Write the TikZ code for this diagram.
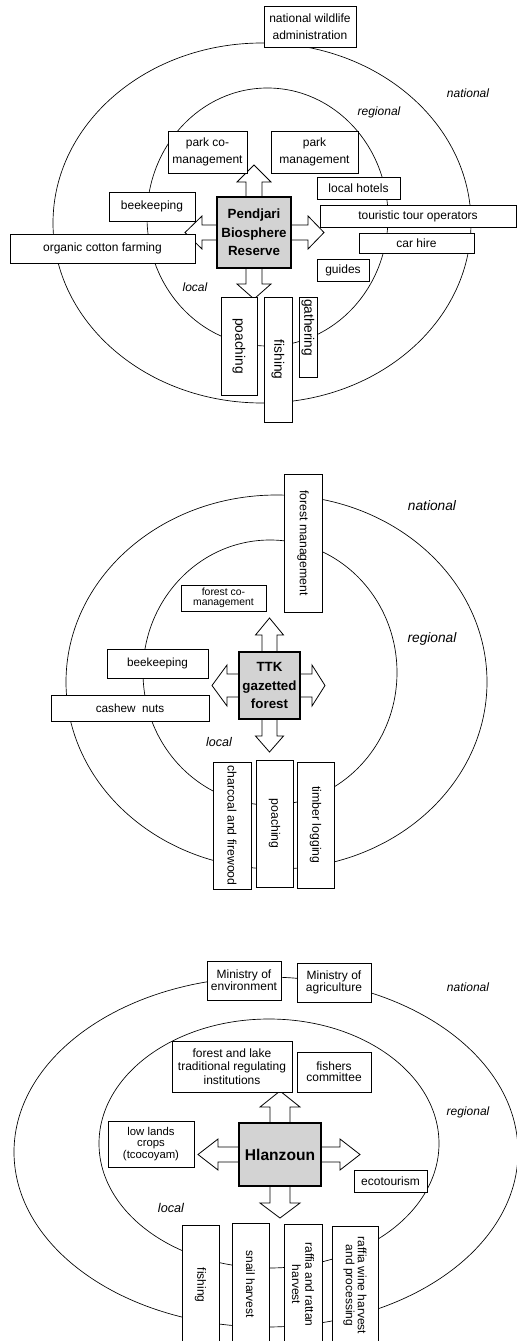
\documentclass[tikz,border=0pt]{standalone}
\usepackage{fontspec}
\setmainfont{Liberation Sans}
\usetikzlibrary{calc}

\definecolor{corefill}{RGB}{211,211,211}
\newcommand\fs[2]{\fontsize{#1}{#2}\selectfont}

% horizontal box given by its corners (x1,y1)-(x2,y2) in pixel units
\newcommand\hbx[7][]{\node[box,#1,minimum width={(#5-#3)*0.75pt},minimum height={(#6-#4)*0.75pt}] (#2) at ({(#3+#5)/2},{(#4+#6)/2}) {#7};}
% vertical box, text running top to bottom
\newcommand\vbx[7][]{\node[box,rotate=-90,#1,minimum width={(#6-#4)*0.75pt},minimum height={(#5-#3)*0.75pt}] (#2) at ({(#3+#5)/2},{(#4+#6)/2}) {#7};}
% block arrow leaving a node anchor: anchor, angle, length, shaft half width, head half width, head length
\newcommand\barrowat[6]{\draw[barrow,shift={(#1)},rotate=#2] (0,{-#4}) -- ({#3-#6},{-#4}) -- ({#3-#6},{-#5}) -- (#3,0) -- ({#3-#6},#5) -- ({#3-#6},#4) -- (0,#4);}

\tikzset{
  box/.style={draw, fill=white, line width=0.6pt, inner sep=1pt, align=center, font=\fs{9}{13}},
  core/.style={draw, fill=corefill, line width=1.5pt, font=\bfseries\fs{10}{14}},
  ring/.style={line width=0.5pt},
  barrow/.style={draw, fill=white, line width=0.6pt, line join=miter},
  lvl/.style={font=\itshape\fs{9}{11}, inner sep=0pt}
}

\begin{document}
\begin{tikzpicture}[x=0.75pt, y=-0.75pt]
\useasboundingbox (0,0) rectangle (517,1341);

% ---------------- Pendjari Biosphere Reserve ----------------
\draw[ring] (262,223) ellipse [x radius=209*0.75pt, y radius=180*0.75pt];
\draw[ring] (267.5,217) ellipse [x radius=120.5*0.75pt, y radius=129*0.75pt];

\hbx[core]{pbr}{217}{197}{291}{268}{Pendjari\\Biosphere\\Reserve}
\barrowat{pbr.north}{90}{31}{8}{17}{17}
\barrowat{pbr.south}{-90}{30}{8}{17}{15}
\barrowat{pbr.west}{180}{31}{7.5}{16.5}{17}
\barrowat{pbr.east}{0}{32}{7.5}{16.5}{16}
\hbx[core]{pbr}{217}{197}{291}{268}{Pendjari\\Biosphere\\Reserve}

\hbx{nwa}{264}{6}{356}{47}{national wildlife\\administration}
\hbx{pcm}{168}{131}{247}{173}{park co-\\management}
\hbx{pm}{271}{131}{358}{173}{park\\management}
\hbx{lh}{317}{177}{400}{199}{local hotels}
\hbx{tto}{320}{205}{516}{227}{touristic tour operators}
\hbx{car}{359}{233}{474}{253}{car hire}
\hbx{gd}{317}{259}{369}{281}{guides}
\hbx{bk1}{109}{192}{195}{221}{beekeeping}
\hbx{ocf}{10}{234}{195}{263}{organic cotton farming}
\vbx[font=\fs{10.3}{12}]{poa1}{221}{297}{257}{395}{poaching}
\vbx[font=\fs{10.3}{12}]{fis1}{264}{297}{292}{422}{fishing}
\vbx[font=\fs{10.3}{12}, text width=57pt, align=left, inner sep=0.5pt]{gat}{299}{297}{317}{377}{gathering}

\node[lvl] (nat1) at (468,93) {national};
\node[lvl] (reg1) at (379,112) {regional};
\node[lvl] (loc1) at (195,287) {local};

% ---------------- TTK gazetted forest ----------------
\draw[ring] (276.5,682) ellipse [x radius=210.5*0.75pt, y radius=187*0.75pt];
\draw[ring] (270,672.5) ellipse [x radius=127*0.75pt, y radius=132.5*0.75pt];

\hbx[core]{ttk}{239}{652}{300}{719}{TTK\\gazetted\\forest}
\barrowat{ttk.north}{90}{33}{7.5}{14}{17}
\barrowat{ttk.south}{-90}{32}{7.5}{14}{16}
\barrowat{ttk.west}{180}{26}{11.5}{20.5}{15}
\barrowat{ttk.east}{0}{24}{11.5}{20.5}{13}
\hbx[core]{ttk}{239}{652}{300}{719}{TTK\\gazetted\\forest}

\vbx[font=\fs{9.2}{11}]{fm}{284}{474}{322}{612}{forest management}
\hbx[font=\fs{7.8}{7.5}]{fcm}{181}{585}{266}{611}{forest co-\\management}
\hbx[font=\fs{8.8}{11}]{bk2}{107}{649}{208}{678}{beekeeping}
\hbx[font=\fs{8.8}{11}]{cn}{51}{695}{209}{721}{cashew\ \ nuts}
\vbx[font=\fs{9.2}{11}]{cf}{213}{762}{251}{889}{charcoal and firewood}
\vbx[font=\fs{9.2}{11}]{poa2}{256}{760}{293}{887}{poaching}
\vbx[font=\fs{9.2}{11}]{tl}{297}{762}{334}{888}{timber logging}

\node[lvl, font=\itshape\fs{10.3}{12}] (nat2) at (432,506) {national};
\node[lvl, font=\itshape\fs{10.3}{12}] (reg2) at (432,639) {regional};
\node[lvl, font=\itshape\fs{9.4}{11}] (loc2) at (219,742) {local};

% ---------------- Hlanzoun ----------------
\draw[ring] (266,1152) ellipse [x radius=252*0.75pt, y radius=175*0.75pt];
\draw[ring] (269,1143.5) ellipse [x radius=170*0.75pt, y radius=124.5*0.75pt];

\hbx[core, font=\bfseries\fs{11.7}{14}]{hlz}{239}{1123}{321}{1186}{Hlanzoun}
\barrowat{hlz.north}{90}{31}{10}{20}{16}
\barrowat{hlz.south}{-90}{31}{10}{20}{15}
\barrowat{hlz.west}{180}{40}{7.5}{15.5}{20}
\barrowat{hlz.east}{0}{38}{7.5}{15.5}{20}
\hbx[core, font=\bfseries\fs{11.7}{14}]{hlz}{239}{1123}{321}{1186}{Hlanzoun}

\hbx[font=\fs{9}{9}]{moe}{207}{961}{281}{1000}{Ministry of\\environment}
\hbx[font=\fs{9}{9}]{moa}{297}{963}{371}{1002}{Ministry of\\agriculture}
\hbx[font=\fs{9}{10}]{flt}{172}{1041}{292}{1092}{forest and lake\\traditional regulating\\institutions}
\hbx[font=\fs{9}{8.5}]{fc}{297}{1052}{371}{1092}{fishers\\committee}
\hbx[font=\fs{8.5}{8.8}]{llc}{108}{1121}{194}{1167}{low lands\\crops\\(tcocoyam)}
\hbx[font=\fs{9}{11}]{eco}{354}{1170}{427}{1192}{ecotourism}
\vbx[font=\fs{9}{10}]{fis3}{182}{1225}{219}{1345}{fishing}
\vbx[font=\fs{9}{10}]{sh}{232}{1223}{269}{1345}{snail harvest}
\vbx[font=\fs{9}{10}]{rrh}{284}{1224}{322}{1345}{raffia and rattan\\harvest}
\vbx[font=\fs{9}{9}]{rwh}{332}{1226}{378}{1345}{raffia wine harvest\\and processing}

\node[lvl] (nat3) at (468,987) {national};
\node[lvl] (reg3) at (468,1112) {regional};
\node[lvl, font=\itshape\fs{9.5}{11}] (loc3) at (171,1208) {local};
\end{tikzpicture}
\end{document}
